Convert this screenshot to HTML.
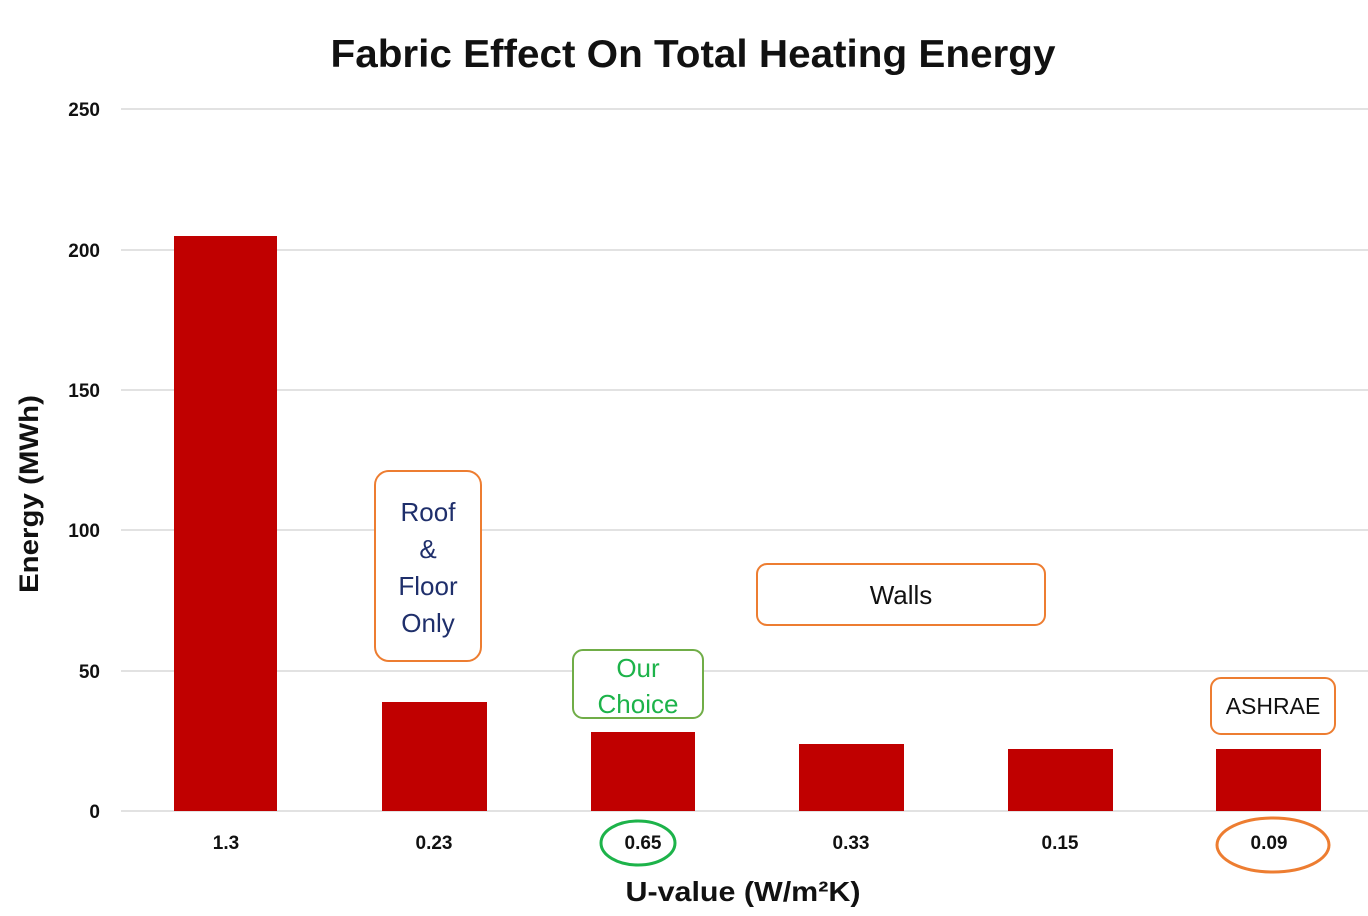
<!DOCTYPE html>
<html><head><meta charset="utf-8"><style>body{margin:0;background:#fff}svg{display:block}</style></head>
<body>
<svg width="1368" height="916" xmlns="http://www.w3.org/2000/svg" font-family="Liberation Sans, sans-serif">
<rect width="1368" height="916" fill="#fff"/>
<text x="693" y="67" text-anchor="middle" font-size="39" font-weight="bold" fill="#111" textLength="725" lengthAdjust="spacingAndGlyphs">Fabric Effect On Total Heating Energy</text>
<g stroke="#d9d9d9" stroke-width="1.5">
<line x1="121" y1="109" x2="1368" y2="109"/><line x1="121" y1="250" x2="1368" y2="250"/>
<line x1="121" y1="390" x2="1368" y2="390"/><line x1="121" y1="530" x2="1368" y2="530"/>
<line x1="121" y1="671" x2="1368" y2="671"/><line x1="121" y1="811" x2="1368" y2="811"/>
</g>
<g font-size="19" font-weight="bold" fill="#111" text-anchor="end">
<text x="100" y="116">250</text><text x="100" y="257">200</text><text x="100" y="397">150</text>
<text x="100" y="537">100</text><text x="100" y="678">50</text><text x="100" y="818">0</text>
</g>
<text transform="translate(38,494) rotate(-90)" text-anchor="middle" font-size="27" font-weight="bold" fill="#111" textLength="198" lengthAdjust="spacingAndGlyphs">Energy (MWh)</text>
<g fill="#c00000">
<rect x="174" y="236" width="103" height="575"/><rect x="382" y="702" width="105" height="109"/>
<rect x="591" y="732" width="104" height="79"/><rect x="799" y="744" width="105" height="67"/>
<rect x="1008" y="749" width="105" height="62"/><rect x="1216" y="749" width="105" height="62"/>
</g>
<g font-size="19" font-weight="bold" fill="#111" text-anchor="middle">
<text x="226" y="849">1.3</text><text x="434" y="849">0.23</text><text x="643" y="849">0.65</text>
<text x="851" y="849">0.33</text><text x="1060" y="849">0.15</text><text x="1269" y="849">0.09</text>
</g>
<text x="743" y="901" text-anchor="middle" font-size="28" font-weight="bold" fill="#111" textLength="235" lengthAdjust="spacingAndGlyphs">U-value (W/m²K)</text>
<ellipse cx="638" cy="843" rx="37" ry="22" fill="none" stroke="#1db34a" stroke-width="3"/>
<ellipse cx="1273" cy="845" rx="56" ry="27" fill="none" stroke="#ed7d31" stroke-width="3"/>
<rect x="375" y="471" width="106" height="190" rx="14" fill="#fff" stroke="#ed7d31" stroke-width="2"/>
<g font-size="26" fill="#1f2f6b" text-anchor="middle">
<text x="428" y="521">Roof</text><text x="428" y="558">&amp;</text><text x="428" y="595">Floor</text><text x="428" y="632">Only</text>
</g>
<rect x="573" y="650" width="130" height="68" rx="10" fill="#fff" stroke="#70ad47" stroke-width="2"/>
<g font-size="26" fill="#1db34a" text-anchor="middle"><text x="638" y="677">Our</text><text x="638" y="713">Choice</text></g>
<rect x="757" y="564" width="288" height="61" rx="10" fill="#fff" stroke="#ed7d31" stroke-width="2"/>
<text x="901" y="604" text-anchor="middle" font-size="26" fill="#111">Walls</text>
<rect x="1211" y="678" width="124" height="56" rx="10" fill="#fff" stroke="#ed7d31" stroke-width="2"/>
<text x="1273" y="714" text-anchor="middle" font-size="23" fill="#111">ASHRAE</text>
</svg>
</body></html>
